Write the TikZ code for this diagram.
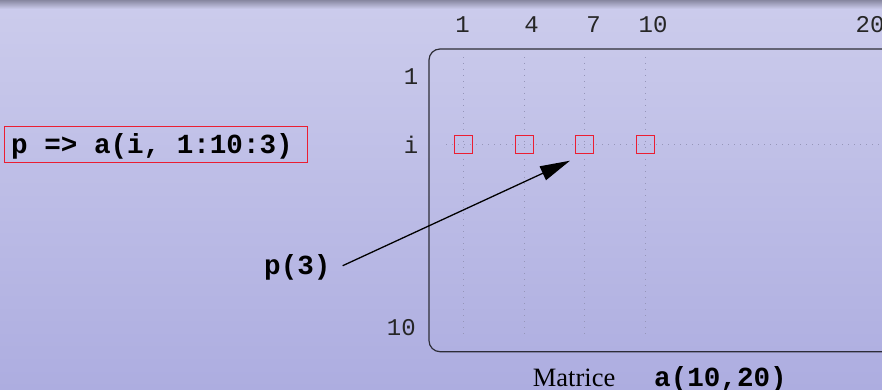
\documentclass[tikz,border=0pt]{standalone}
\usepackage{fontspec}
\usetikzlibrary{arrows.meta}
\newfontfamily\monof{Liberation Mono}
\newfontfamily\serf{Liberation Serif}
\definecolor{bgtop}{RGB}{204,204,236}
\definecolor{bgbot}{RGB}{173,173,224}
\definecolor{band}{RGB}{135,135,160}
\definecolor{redbox}{RGB}{235,30,50}
\definecolor{gridc}{RGB}{150,150,185}
\definecolor{framec}{RGB}{45,45,55}
\tikzset{
  thinlab/.style={anchor=base, inner sep=0pt, font=\monof\fontsize{24}{26}\selectfont, text=black!85},
  boldlab/.style={anchor=base west, inner sep=0pt, font=\monof\bfseries\fontsize{27.6}{30}\selectfont},
  serlab/.style={anchor=base west, inner sep=0pt, font=\serf\fontsize{26.5}{28}\selectfont},
  cell/.style={minimum width=18pt, minimum height=18pt, inner sep=0pt, outer sep=0pt},
  cellline/.style={draw=redbox, line width=1.4pt},
  gridline/.style={gridc, line width=0.8pt, dash pattern=on 0.8pt off 5.2pt},
  codebox/.style={draw=redbox, line width=1pt, minimum width=303pt, minimum height=36pt, inner sep=0pt},
}
\begin{document}
\begin{tikzpicture}[x=1pt,y=-1pt]
\useasboundingbox (0,0) rectangle (882,390);
\clip (0,0) rectangle (882,390);
% background
\shade[top color=bgtop, bottom color=bgbot] (0,0) rectangle (882,390);
\shade[top color=band, bottom color=bgtop] (0,0) rectangle (882,9);
% grid
\foreach \gx in {463.5,524.5,584.5,645.5}
  \draw[gridline] (\gx,57) -- (\gx,334);
\draw[gridline] (446,144.5) -- (882,144.5);
% matrix frame
\draw[framec, line width=1.2pt, rounded corners=11pt] (900,49) -- (429,49) -- (429,351.7) -- (900,351.7);
% cells
\node[cell] (c1) at (463.5,144.5) {};
\node[cell] (c2) at (524.5,144.5) {};
\node[cell] (c3) at (584.5,144.5) {};
\node[cell] (c4) at (645.5,144.5) {};
\foreach \c in {c1,c2,c3,c4}
  \draw[cellline] (\c.south west) rectangle (\c.north east);
% column labels
\node[thinlab] (t1) at (462.6,32.3) {1};
\node[thinlab] (t4) at (531.5,32.3) {4};
\node[thinlab] (t7) at (593.5,32.3) {7};
\node[thinlab] (t10) at (653,32.3) {10};
\node[thinlab] (t20) at (870,32.3) {20};
% row labels
\node[thinlab] (r1) at (411,84.3) {1};
\node[thinlab] (ri) at (411,153.3) {i};
\node[thinlab] (r10) at (401.3,335) {10};
% code box
\node[codebox] (code) at (155.5,144.5) {};
\node[boldlab] (codetxt) at (11,153.3) {p => a(i, 1:10:3)};
% p(3)
\node[boldlab] (p3) at (264,274) {p(3)};
\coordinate (tip) at (570,160.7);
\draw[line width=1.3pt, -{Triangle[length=30pt,width=15pt]}] (342.7,265.7) -- (tip);
% caption
\node[serlab] (mat) at (532.7,386.7) {Matrice};
\node[boldlab] (arr) at (654,386.7) {a(10,20)};
\end{tikzpicture}
\end{document}
